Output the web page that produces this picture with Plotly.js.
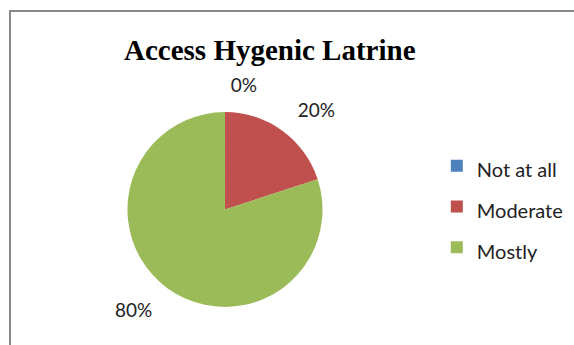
<!DOCTYPE html>
<html>
<head>
<meta charset="utf-8">
<script src="https://cdn.plot.ly/plotly-3.0.1.min.js"></script>
<style>html,body{margin:0;padding:0;background:#fff}#chart{width:574px;height:345px}</style>
</head>
<body>
<div id="chart"></div>
<script>
const categories = ["Not at all", "Moderate", "Mostly"];
const shares = [0, 20, 80];
const colors = ["#4F81BD", "#C0504D", "#9BBB59"];
const titleText = "Access Hygenic Latrine";

const LABEL_FONT = "Lato, Open Sans, sans-serif";

// visible pie
const pieTrace = {
  type: "pie",
  labels: categories.map(c => '<span style="font-size:20px">' + c + '</span>'),
  values: shares,
  sort: false,
  direction: "clockwise",
  rotation: 0,
  marker: { colors: colors, line: { width: 0 } },
  textinfo: "none",
  domain: { x: [0.2221, 0.5618], y: [0.1101, 0.6754] },
  hoverinfo: "label+percent",
  showlegend: true
};

// transparent companion pie (same data, wider radius) that carries the outside percent labels
const labelTrace = {
  type: "pie",
  labels: categories,
  values: shares,
  sort: false,
  direction: "clockwise",
  rotation: 0,
  marker: { colors: categories.map(() => "rgba(0,0,0,0)"), line: { width: 0 } },
  textinfo: "percent",
  texttemplate: "%{percent:.0%}",
  textposition: "outside",
  outsidetextfont: { family: LABEL_FONT, size: 19, color: "#222" },
  domain: { x: [0.1934, 0.5906], y: [0.0623, 0.7232] },
  hoverinfo: "skip",
  showlegend: false
};

const layout = {
  width: 574, height: 345,
  margin: { l: 0, r: 0, t: 0, b: 0 },
  paper_bgcolor: "#fff",
  title: {
    text: "<b>" + titleText + "</b>",
    font: { family: "Liberation Serif, Times New Roman, serif", size: 29, color: "#000" },
    x: 0.47, xanchor: "center", y: 0.855, yanchor: "middle"
  },
  legend: {
    x: 0.761, xanchor: "left", y: 0.400, yanchor: "middle",
    font: { family: LABEL_FONT, size: 29, color: "#222" },
    bgcolor: "rgba(0,0,0,0)"
  },
  shapes: [{
    type: "rect", xref: "paper", yref: "paper",
    x0: 10/574, x1: 1.2, y0: -0.2, y1: 1 - 11/345,
    line: { color: "#8a8a8a", width: 2 }, fillcolor: "rgba(0,0,0,0)"
  }]
};

Plotly.newPlot("chart", [pieTrace, labelTrace], layout, { displayModeBar: false, staticPlot: true });
</script>
</body>
</html>
